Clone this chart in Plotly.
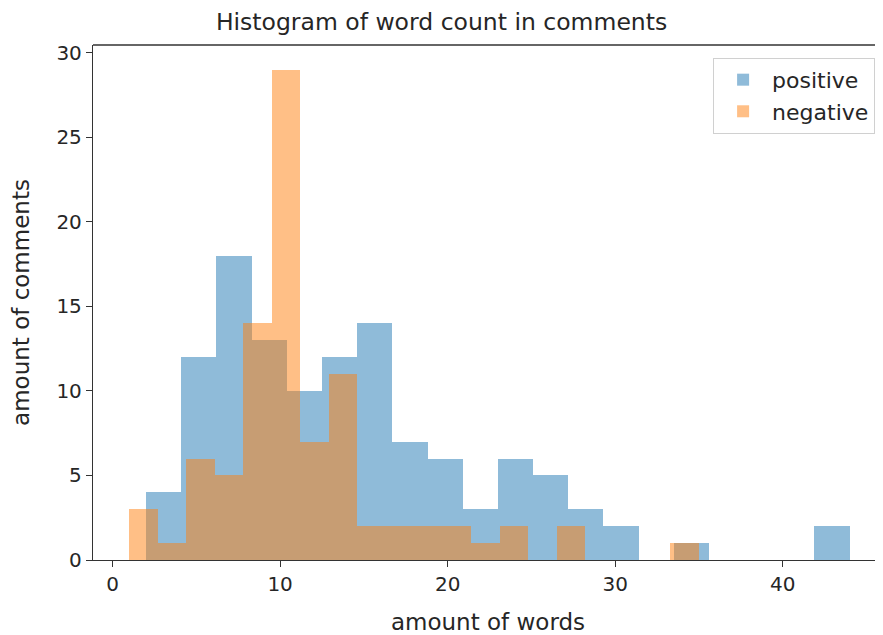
import plotly.graph_objects as go

# ---- data ----
pos_min, pos_max, pos_nbins = 2.0, 44.0, 20
pos_counts = [4, 12, 18, 13, 10, 12, 14, 7, 6, 3, 6, 5, 3, 2, 0, 1, 0, 0, 0, 2]

neg_min, neg_max, neg_nbins = 1.0, 35.0, 20
neg_counts = [3, 1, 6, 5, 14, 29, 7, 11, 2, 2, 2, 2, 1, 2, 0, 2, 0, 0, 0, 1]

x_ticks = [0, 10, 20, 30, 40]
y_ticks = [0, 5, 10, 15, 20, 25, 30]

title = "Histogram of word count in comments"
x_label = "amount of words"
y_label = "amount of comments"


def bin_geometry(lo, hi, n):
    w = (hi - lo) / n
    centers = [lo + w * (i + 0.5) for i in range(n)]
    return centers, w


pos_x, pos_w = bin_geometry(pos_min, pos_max, pos_nbins)
neg_x, neg_w = bin_geometry(neg_min, neg_max, neg_nbins)

fig = go.Figure()
fig.add_trace(go.Bar(
    x=pos_x, y=pos_counts, width=pos_w, name="positive",
    marker=dict(color="rgba(31,119,180,0.5)", line=dict(width=0)),
))
fig.add_trace(go.Bar(
    x=neg_x, y=neg_counts, width=neg_w, name="negative",
    marker=dict(color="rgba(255,127,14,0.5)", line=dict(width=0)),
))

font = "DejaVu Sans, Verdana, sans-serif"
txt = "#262626"
TICK_FS = 20
LAB_FS = 23

W, H = 875, 627
fig.update_layout(
    width=W, height=H,
    barmode="overlay", bargap=0,
    paper_bgcolor="white", plot_bgcolor="white",
    margin=dict(l=85, r=0, t=37, b=75, autoexpand=False),
    font=dict(family=font, size=TICK_FS, color=txt),
    title=dict(text=title, x=0.4955, xref="container", xanchor="center",
               y=1 - 14 / H, yanchor="middle",
               font=dict(size=23.5, color=txt)),
    showlegend=True,
    legend=dict(
        x=0.99, y=0.975, xanchor="right", yanchor="top",
        bgcolor="rgba(255,255,255,0.8)", bordercolor="#d0d0d0", borderwidth=1,
        font=dict(size=22, color=txt),
        itemsizing="constant", itemwidth=48,
    ),
    xaxis=dict(
        range=[-1.17, 45.99], tickvals=x_ticks, ticktext=[str(v) for v in x_ticks],
        showgrid=False, zeroline=False, showline=True, linecolor="#333", linewidth=1.3,
        ticks="outside", ticklen=6, tickwidth=1.2, tickcolor="#333",
        tickfont=dict(size=TICK_FS, color=txt), automargin=False,
        title=dict(text=x_label, font=dict(size=LAB_FS, color=txt), standoff=19),
    ),
    yaxis=dict(
        range=[0, 30.45], tickvals=y_ticks, ticktext=[str(v) for v in y_ticks],
        showgrid=False, zeroline=False, showline=True, linecolor="#333", linewidth=1.3,
        ticks="outside", ticklen=6, tickwidth=1.2, tickcolor="#333",
        tickfont=dict(size=TICK_FS, color=txt), automargin=False,
        title=dict(text=y_label, font=dict(size=LAB_FS, color=txt), standoff=24),
    ),
    shapes=[dict(type="line", xref="paper", yref="paper", x0=0, x1=1, y0=1, y1=1,
                 line=dict(color="#333", width=1.3))],
)

fig.write_html("out.html")
